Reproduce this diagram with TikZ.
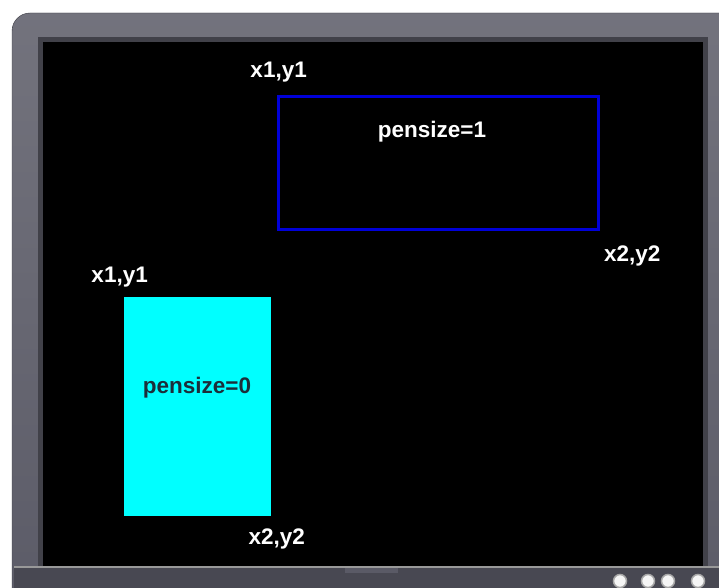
\documentclass[tikz,border=0pt]{standalone}
\usepackage{fontspec}
\setmainfont{Liberation Sans}
\usetikzlibrary{positioning}

\definecolor{bezel}{HTML}{5A5A66}
\definecolor{bezeldark}{HTML}{3A3A42}
\definecolor{penblue}{HTML}{0000D8}
\definecolor{pencyan}{HTML}{00FFFF}
\definecolor{inktext}{HTML}{1C2E3A}

\begin{document}
\begin{tikzpicture}[x=1pt, y=-1pt,
    label/.style={font=\fontsize{22.5}{26}\selectfont\bfseries, text=white, inner sep=0pt},
    knob/.style={circle, minimum size=13pt, inner sep=0pt, draw=gray!70, line width=1.5pt, fill=gray!8}]
    \useasboundingbox (0, 0) rectangle (719, 588);
    \clip (0, 0) rectangle (719, 588);
    \fill[white] (0, 0) rectangle (719, 588);

    \shade[top color=bezel!85!white, bottom color=bezel, rounded corners=18pt, draw=bezeldark] (12, 13) rectangle (760, 640);
    \fill[bezeldark!80!bezel] (38, 37) rectangle (708, 572);
    \fill[bezel!80!black] (14, 567) rectangle (719, 588);
    \draw[gray!80, line width=1.5pt] (14, 567) -- (719, 567);
    \fill[bezel] (345, 568) rectangle (398, 573);
    \fill[black] (43, 42) rectangle (703, 566);

    \node at (277, 95) [anchor=north west, minimum width=320pt, minimum height=133pt, draw=penblue, line width=3pt] (box1) {};
    \node at (124, 297) [anchor=north west, minimum width=147pt, minimum height=219pt, fill=pencyan, inner sep=0pt] (box0) {};

    \node at (432, 132) [label] (pen1) {pensize=1};
    \node at (197, 388) [label, text=inktext] (pen0) {pensize=0};

    \node [label, above left=13pt and -30pt of box1.north west] (tl1) {x1,y1};
    \node [label, below right=15pt and 4pt of box1.south east] (br1) {x2,y2};
    \node [label, above left=10pt and -24pt of box0.north west] (tl0) {x1,y1};
    \node [label, below right=12pt and -23pt of box0.south east] (br0) {x2,y2};

    \node at (620, 581) [knob] (b1) {};
    \node at (648, 581) [knob] (b2) {};
    \node at (668, 581) [knob] (b3) {};
    \node at (698, 581) [knob] (b4) {};

\end{tikzpicture}
\end{document}
